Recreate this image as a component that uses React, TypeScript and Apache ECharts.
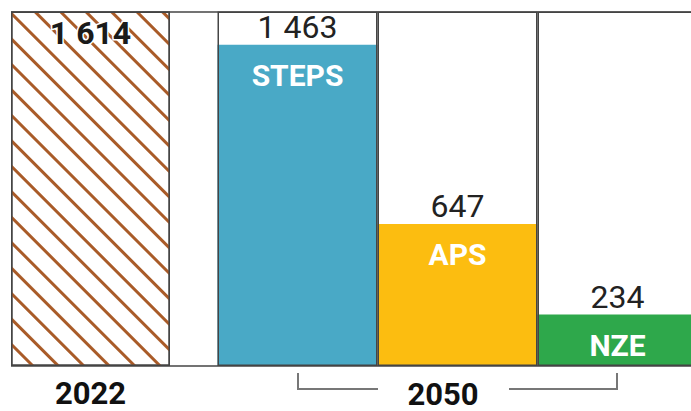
import React, { useEffect, useRef } from "react";
import * as echarts from "echarts";

const baseYear = "2022";
const baseValue = 1614;
const scenarioYear = "2050";
const scenarios = ["STEPS", "APS", "NZE"];
const scenarioValues = [1463, 647, 234];
const scenarioColors = ["#49a9c6", "#fcbd10", "#2ea84b"];
const yMax = 1614;

const fmt = (v: number) => String(v).replace(/\B(?=(\d{3})+(?!\d))/g, " ");

const FONT = "Roboto, 'Liberation Sans', Arial, sans-serif";
const FRAME = "#454545";

export default function App() {
  const ref = useRef<HTMLDivElement>(null);
  useEffect(() => {
    document.body.style.margin = "0";
    const chart = echarts.init(ref.current!, null, { renderer: "svg" });
    const hiddenY = (gridIndex: number) => ({
      type: "value",
      gridIndex,
      min: 0,
      max: yMax,
      show: false,
    });
    chart.setOption({
      animation: false,
      backgroundColor: "#ffffff",
      grid: [
        { left: 11, right: 0, top: 11.5, bottom: 45, outerBoundsMode: "none" },
        { left: 11, width: 159, top: 11.5, bottom: 45, outerBoundsMode: "none" },
        { left: 217.5, width: 480, top: 11.5, bottom: 45, outerBoundsMode: "none" },
      ],
      xAxis: [
        { type: "value", gridIndex: 0, min: 0, max: 1, show: false },
        {
          type: "category",
          gridIndex: 1,
          data: [baseYear],
          axisLine: { show: false },
          axisTick: { show: false },
          axisLabel: {
            fontFamily: FONT,
            fontSize: 31,
            fontWeight: "bold",
            color: "#111",
            margin: 12,
          },
        },
        {
          type: "category",
          gridIndex: 2,
          data: scenarios,
          axisLine: { show: false },
          axisTick: { show: false },
          axisLabel: { show: false },
        },
      ],
      yAxis: [
        {
          type: "value",
          gridIndex: 0,
          min: 0,
          max: yMax,
          interval: yMax,
          z: 10,
          axisLine: { show: false },
          axisTick: { show: false },
          axisLabel: { show: false },
          splitLine: { show: true, lineStyle: { color: FRAME, width: 1.5 } },
        },
        hiddenY(1),
        hiddenY(2),
      ],
      series: [
        {
          type: "bar",
          xAxisIndex: 1,
          yAxisIndex: 1,
          data: [baseValue],
          barWidth: "100%",
          itemStyle: {
            color: "#ffffff",
            borderColor: FRAME,
            borderWidth: 1.5,
            decal: {
              symbol: "rect",
              symbolSize: 1,
              color: "#a95b28",
              dashArrayX: [1, 0],
              dashArrayY: [2.2, 14.3],
              rotation: Math.PI / 4,
            },
          },
          label: {
            show: true,
            position: "insideTop",
            distance: 5,
            formatter: (p: any) => fmt(p.value),
            fontFamily: FONT,
            fontSize: 32,
            fontWeight: "bold",
            color: "#1a1a1a",
            textBorderColor: "#ffffff",
            textBorderWidth: 3,
          },
        },
        {
          type: "bar",
          xAxisIndex: 2,
          yAxisIndex: 2,
          data: scenarioValues.map((v, i) => ({
            value: v,
            itemStyle: { color: scenarioColors[i] },
          })),
          barWidth: "100%",
          barGap: "-100%",
          z: 2,
          label: {
            show: true,
            position: "insideTop",
            distance: 16,
            formatter: "{b}",
            fontFamily: FONT,
            fontSize: 30,
            fontWeight: "bold",
            color: "#ffffff",
          },
        },
        {
          type: "bar",
          xAxisIndex: 2,
          yAxisIndex: 2,
          data: scenarioValues,
          barWidth: "100%",
          barGap: "-100%",
          z: 3,
          itemStyle: { color: "rgba(0,0,0,0)" },
          label: {
            show: true,
            position: "top",
            distance: 2,
            formatter: (p: any) => fmt(p.value),
            fontFamily: FONT,
            fontSize: 32,
            color: "#222",
          },
        },
        {
          type: "bar",
          xAxisIndex: 2,
          yAxisIndex: 2,
          data: scenarios.map(() => yMax),
          barWidth: "100%",
          barGap: "-100%",
          z: 4,
          silent: true,
          itemStyle: {
            color: "rgba(0,0,0,0)",
            borderColor: FRAME,
            borderWidth: 1.5,
          },
        },
      ],
      graphic: [
        {
          type: "polyline",
          shape: { points: [[298, 373], [298, 389], [378, 389]] },
          style: { stroke: "#777", lineWidth: 2, fill: "none" },
        },
        {
          type: "polyline",
          shape: { points: [[509, 389], [617, 389], [617, 373]] },
          style: { stroke: "#777", lineWidth: 2, fill: "none" },
        },
        {
          type: "text",
          x: 443,
          y: 394,
          style: {
            text: scenarioYear,
            font: `bold 31px ${FONT}`,
            fill: "#111",
            textAlign: "center",
            textVerticalAlign: "middle",
          },
        },
      ],
    });
    return () => chart.dispose();
  }, []);
  return <div ref={ref} style={{ width: 691, height: 411 }} />;
}
